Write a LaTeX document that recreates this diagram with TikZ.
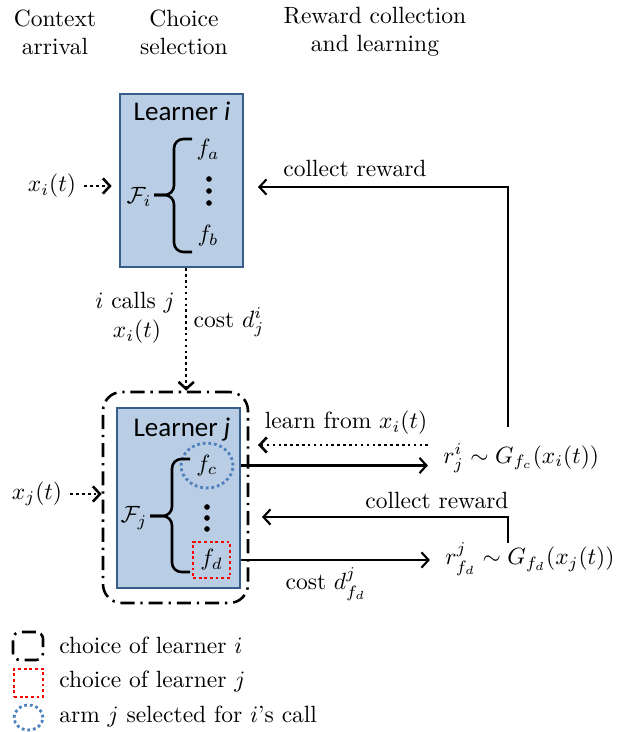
\documentclass[tikz,border=0pt]{standalone}
\usepackage{amsmath}
\usepackage{amssymb}
\usepackage{fontspec}
\newfontfamily\learnerfont{Carlito}
\usepackage{tikz}
\usetikzlibrary{shapes, arrows.meta, positioning, calc}
\definecolor{learnerfill}{RGB}{185,205,229}
\definecolor{learnerline}{RGB}{56,93,138}
\definecolor{armblue}{RGB}{79,129,189}

\begin{document}
\begin{tikzpicture}[
    x=0.4255pt, y=-0.4255pt,
    learner/.style={draw=learnerline, fill=learnerfill, line width=1.1pt, minimum width=52.3pt},
    title/.style={font=\learnerfont\fontsize{11.5}{13}\selectfont},
    choicebox/.style={draw, line width=1.1pt, rounded corners=8pt, dash pattern=on 6pt off 2.5pt on 1pt off 2.5pt},
    armsel/.style={draw=armblue, line width=1.2pt, dash pattern=on 1.2pt off 1.2pt, ellipse, inner sep=0pt},
    learnersel/.style={draw=red, line width=1.2pt, dash pattern=on 1.2pt off 1.2pt, inner sep=0pt},
    arrow/.style={-{Straight Barb[length=3pt,width=6.5pt]}, line width=0.9pt},
    dotarrow/.style={arrow, line width=1.1pt, dash pattern=on 1.1pt off 1.4pt},
    armbrace/.style={line width=1.1pt, rounded corners=4pt},
    dot/.style={circle, fill, inner sep=0pt, minimum size=2.4pt}
]
    \useasboundingbox (0,0) rectangle (632,732);

    % Column titles
    \node[align=center] (ctx) at (55,32) {Context\\arrival};
    \node[align=center] (sel) at (184,32) {Choice\\selection};
    \node[align=center] (rew) at (375,32) {Reward collection\\and learning};

    % Learner i
    \node[learner, minimum height=73.6pt] (li) at (181.5,180.5) {};
    \node[title] (lit) at (182,111) {Learner \textit{i}};
    \node (fa) at (208,150) {$f_a$};
    \foreach \y in {179,191,203} \node[dot] (di\y) at (209,\y) {};
    \node (fb) at (208,236) {$f_b$};
    \node[inner sep=1pt] (Fi) at (139,197) {$\mathcal{F}_i$};
    \draw[armbrace] (192,139) -- (174,139) -- (174,195) -- (Fi.east |- 0,195);
    \draw[armbrace] (192,252) -- (174,252) -- (174,195) -- (Fi.east |- 0,195);

    \node (xi) at (52,186) {$x_i(t)$};
    \draw[dotarrow, shorten >=3pt] (xi.east) -- (xi.east -| li.west);

    % Choice of learner i
    \node[choicebox, minimum width=61.7pt, minimum height=89.8pt] (choice) at (175.5,497.5) {};

    % Learner j
    \node[learner, minimum height=76.6pt] (lj) at (178.5,498) {};
    \node[title] (ljt) at (182,430) {Learner \textit{j}};
    \node[armsel, minimum width=22.1pt, minimum height=19.1pt] (fc) at (207,465.5) {$f_c$};
    \foreach \y in {507,518,529} \node[dot] (dj\y) at (207,\y) {};
    \node[learnersel, minimum width=15.7pt, minimum height=15.3pt] (fd) at (211.5,560) {$f_d$};
    \node[inner sep=1pt] (Fj) at (134,518) {$\mathcal{F}_j$};
    \draw[armbrace] (190,459) -- (172,459) -- (172,516) -- (Fj.east |- 0,516);
    \draw[armbrace] (190,572) -- (172,572) -- (172,516) -- (Fj.east |- 0,516);

    \node (xj) at (37,494) {$x_j(t)$};
    \draw[dotarrow] (xj.east) -- (xj.east -| choice.west);

    % i calls j
    \draw[dotarrow] ([xshift=2pt]li.south) -- ([xshift=2pt]li.south |- choice.north);
    \node (calls) at (135,303) {$i$ calls $j$};
    \node (callx) at (137,332) {$x_i(t)$};
    \node (costi) at (229,322) {cost $d^i_j$};

    % Rewards
    \node[anchor=west] (rj) at (435,458) {$r^i_j \sim G_{f_c}(x_i(t))$};
    \node[anchor=west] (rfd) at (437,559) {$r^j_{f_d} \sim G_{f_d}(x_j(t))$};
    \draw[arrow, shorten >=3pt] (lj.east |- fc) -- (rj.west |- fc);
    \draw[arrow, shorten >=3pt] (lj.east |- fd) -- (rfd.west |- fd);
    \node (costj) at (326,584) {cost $d^j_{f_d}$};

    \coordinate (learnstart) at (428,445);
    \coordinate (learnend) at (258,445);
    \draw[dotarrow] (learnstart) -- (learnend);
    \node (lrn) at (346,423) {learn from $x_i(t)$};

    \coordinate (rewi) at (508,427);
    \coordinate (rewiend) at (258,187);
    \draw[arrow] (rewi) |- (rewiend);
    \node (cri) at (355,168) {collect reward};

    \coordinate (rewj) at (508,543);
    \coordinate (rewjend) at (262,517);
    \draw[arrow] (rewj) |- (rewjend);
    \node (crj) at (437,500) {collect reward};

    % Legend
    \node[choicebox, rounded corners=3pt, minimum width=12.8pt, minimum height=11.9pt] (legi) at (28,646) {};
    \node[anchor=west] (legitext) at (51,645) {choice of learner $i$};
    \node[learnersel, minimum width=12.3pt, minimum height=11.9pt] (legj) at (28.5,683) {};
    \node[anchor=west] (legjtext) at (51,681) {choice of learner $j$};
    \node[armsel, minimum width=12.3pt, minimum height=10.6pt] (legarm) at (28.5,717.5) {};
    \node[anchor=west] (legarmtext) at (51,716) {arm $j$ selected for $i$'s call};

\end{tikzpicture}
\end{document}
